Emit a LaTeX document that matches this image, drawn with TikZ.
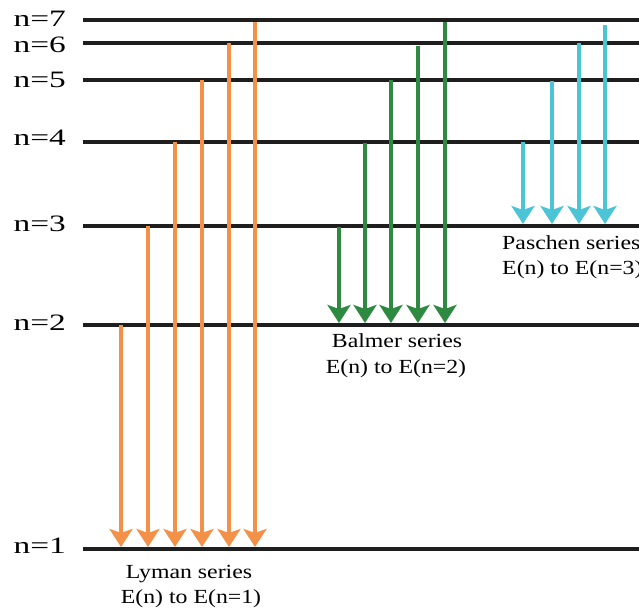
\documentclass[tikz,border=0pt]{standalone}
\usepackage{fontspec}
\setmainfont{Liberation Serif}
\usetikzlibrary{arrows.meta}
\definecolor{lyc}{HTML}{F39149}
\definecolor{bac}{HTML}{2E8A41}
\definecolor{pac}{HTML}{4BC4D5}
\definecolor{lvc}{HTML}{1E1E1E}
\tikzset{
  level/.style={draw=lvc, line width=3.8pt},
  trans/.style={line width=4pt, -{Stealth[length=18pt,width=23pt,inset=4pt]}},
  nlab/.style={anchor=base east, inner sep=0pt, font=\fontsize{23.5}{26}\selectfont},
  slab/.style={inner sep=0pt, font=\fontsize{20}{22}\selectfont},
}
\newcommand{\wx}[1]{\scalebox{1.42}[1]{#1}}
\newcommand{\sx}[1]{\scalebox{1.19}[1]{#1}}
\begin{document}
\begin{tikzpicture}[x=1pt,y=-1pt]
\useasboundingbox (0,0) rectangle (639,612);
% level lines
\foreach \n/\y in {7/20,6/43,5/80,4/142,3/226,2/325,1/549}{
  \coordinate (a\n) at (83,\y);
  \coordinate (b\n) at (639,\y);
  \draw[level] (a\n) -- (b\n);
}
% level labels
\node[nlab] (n7) at (66,27) {\wx{n=7}};
\node[nlab] (n6) at (66,53) {\wx{n=6}};
\node[nlab] (n5) at (66,88) {\wx{n=5}};
\node[nlab] (n4) at (66,146) {\wx{n=4}};
\node[nlab] (n3) at (66,232) {\wx{n=3}};
\node[nlab] (n2) at (66,330) {\wx{n=2}};
\node[nlab] (n1) at (66,553) {\wx{n=1}};
% Lyman
\foreach \x/\y in {121/325,148/226,175/142,202/80,229/43,255/22}{
  \coordinate (ls\x) at (\x,\y);
  \coordinate (le\x) at (\x,547);
  \draw[trans, lyc] (ls\x) -- (le\x);
}
% Balmer
\foreach \x/\y in {339/227,365/143,391/80,418/46,445/22}{
  \coordinate (bs\x) at (\x,\y);
  \coordinate (be\x) at (\x,323);
  \draw[trans, bac] (bs\x) -- (be\x);
}
% Paschen
\foreach \x/\y in {523/142,552/81,579/43,605/25}{
  \coordinate (ps\x) at (\x,\y);
  \coordinate (pe\x) at (\x,224);
  \draw[trans, pac] (ps\x) -- (pe\x);
}
% series labels
\node[slab, anchor=base] (ly1) at (189,578) {\sx{Lyman series}};
\node[slab, anchor=base] (ly2) at (191,603) {\sx{E(n) to E(n=1)}};
\node[slab, anchor=base] (ba1) at (397,347) {\sx{Balmer series}};
\node[slab, anchor=base] (ba2) at (396,373) {\sx{E(n) to E(n=2)}};
\node[slab, anchor=base west] (pa1) at (502,249) {\sx{Paschen series}};
\node[slab, anchor=base west] (pa2) at (502,274) {\sx{E(n) to E(n=3)}};
\end{tikzpicture}
\end{document}
